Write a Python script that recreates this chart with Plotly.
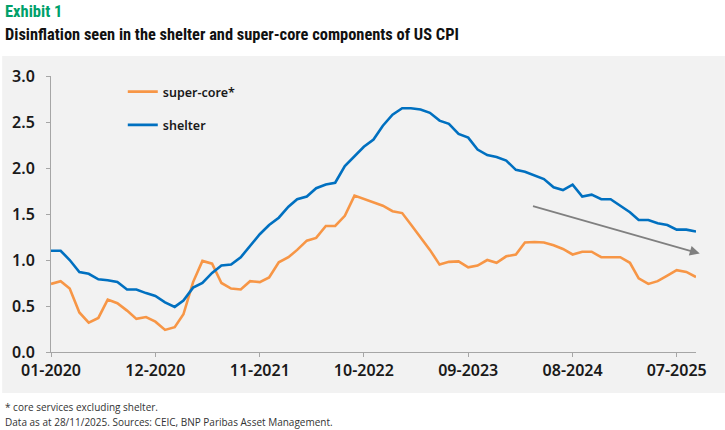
import pandas as pd
import plotly.graph_objects as go

# monthly, 01-2020 .. 09-2025
months = pd.date_range("2020-01-01", "2025-09-01", freq="MS")

super_core = [
    0.74, 0.77, 0.69, 0.43, 0.32, 0.37, 0.57, 0.53, 0.45, 0.36, 0.38, 0.33,
    0.24, 0.27, 0.41, 0.76, 0.99, 0.96, 0.75, 0.69, 0.68, 0.77, 0.76, 0.81,
    0.975, 1.03, 1.11, 1.21, 1.24, 1.37, 1.37, 1.48, 1.70, 1.665, 1.63, 1.59,
    1.53, 1.51, 1.385, 1.25, 1.11, 0.95, 0.98, 0.985, 0.92, 0.94, 1.00, 0.97,
    1.04, 1.06, 1.19, 1.195, 1.19, 1.16, 1.12, 1.06, 1.09, 1.09, 1.03, 1.03,
    1.03, 0.97, 0.80, 0.74, 0.77, 0.83, 0.89, 0.87, 0.815,
]
shelter = [
    1.10, 1.10, 1.00, 0.87, 0.85, 0.79, 0.78, 0.76, 0.68, 0.68, 0.64, 0.61,
    0.54, 0.49, 0.56, 0.70, 0.75, 0.86, 0.94, 0.95, 1.03, 1.15, 1.28, 1.38,
    1.46, 1.58, 1.66, 1.69, 1.78, 1.82, 1.84, 2.02, 2.13, 2.23, 2.31, 2.46,
    2.58, 2.65, 2.65, 2.635, 2.60, 2.515, 2.48, 2.37, 2.33, 2.20, 2.14, 2.12,
    2.08, 1.98, 1.96, 1.92, 1.88, 1.79, 1.76, 1.82, 1.69, 1.71, 1.66, 1.66,
    1.59, 1.52, 1.435, 1.435, 1.40, 1.38, 1.33, 1.33, 1.31,
]

# trend arrow (start -> end)
trend_start = ("2024-03-22", 1.59)
trend_end = ("2025-09-13", 1.07)

ORANGE = "#F79646"
BLUE = "#0070C0"
GREEN = "#00A06A"
PANEL = "#F2F2F2"
TITLE_FONT = "Liberation Sans Narrow, Roboto Condensed, Roboto, sans-serif"
TICK_FONT = "Noto Sans, Open Sans, sans-serif"

W, H = 725, 430
ML, MR, MT, MB = 49, 29, 76, 78


def px_x(px):
    return (px - ML) / (W - ML - MR)


def px_y(py):
    return (H - MB - py) / (H - MT - MB)


fig = go.Figure()
fig.add_trace(go.Scatter(x=months, y=super_core, name="super-core*", mode="lines",
                         legendgroup="sc", line=dict(color=ORANGE, width=2.6)))
fig.add_trace(go.Scatter(x=months, y=shelter, name="shelter", mode="lines",
                         legendgroup="sh", line=dict(color=BLUE, width=2.6)))

# grey chart panel
fig.add_shape(type="rect", xref="paper", yref="paper", layer="below",
              x0=px_x(0), x1=px_x(W), y0=px_y(393), y1=px_y(56),
              fillcolor=PANEL, line=dict(width=0))

fig.add_annotation(x=trend_end[0], y=trend_end[1], ax=trend_start[0], ay=trend_start[1],
                   xref="x", yref="y", axref="x", ayref="y", text="",
                   showarrow=True, arrowhead=2, arrowsize=1.1, arrowwidth=1.8,
                   arrowcolor="#808080")

fig.add_annotation(x=px_x(1), y=px_y(11), xref="paper", yref="paper",
                   xanchor="left", yanchor="middle", showarrow=False,
                   text="<b>Exhibit 1</b>",
                   font=dict(family=TITLE_FONT, size=16.5, color=GREEN))
fig.add_annotation(x=px_x(1), y=px_y(34), xref="paper", yref="paper",
                   xanchor="left", yanchor="middle", showarrow=False,
                   text="<b>Disinflation seen in the shelter and super-core components of US CPI</b>",
                   font=dict(family=TITLE_FONT, size=16.4, color="#111111"))
fig.add_annotation(x=px_x(1), y=px_y(407), xref="paper", yref="paper",
                   xanchor="left", yanchor="middle", showarrow=False,
                   text="* core services excluding shelter.",
                   font=dict(family="Open Sans", size=10, color="#333333"))
fig.add_annotation(x=px_x(1), y=px_y(422), xref="paper", yref="paper",
                   xanchor="left", yanchor="middle", showarrow=False,
                   text="Data as at 28/11/2025. Sources: CEIC, BNP Paribas Asset Management.",
                   font=dict(family="Open Sans", size=10, color="#333333"))

fig.update_xaxes(range=["2020-01-01", "2025-09-01"], tick0="2020-01-01", dtick="M11",
                 tickformat="%m-%Y", ticks="outside", ticklen=4, tickcolor="#A6A6A6",
                 showline=True, linecolor="#A6A6A6", linewidth=1, showgrid=False,
                 zeroline=False,
                 tickfont=dict(family=TICK_FONT, size=16, color="#1A1A1A", weight=600))
fig.update_yaxes(range=[0, 3], dtick=0.5, tickformat=".1f", ticks="outside", ticklen=4,
                 tickcolor="#A6A6A6", showline=True, linecolor="#A6A6A6", linewidth=1,
                 showgrid=False, zeroline=False, ticklabelstandoff=8,
                 tickfont=dict(family=TICK_FONT, size=16, color="#1A1A1A", weight=600))

fig.update_layout(
    width=W, height=H,
    margin=dict(l=ML, r=MR, t=MT, b=MB),
    paper_bgcolor="white", plot_bgcolor=PANEL,
    showlegend=True,
    legend=dict(x=px_x(121), y=px_y(77), xanchor="left", yanchor="top",
                bgcolor="rgba(0,0,0,0)", traceorder="grouped", tracegroupgap=14,
                itemwidth=30,
                font=dict(family=TICK_FONT, size=12.5, color="#1A1A1A", weight=600)),
)

# drop the browser's default body margin so the figure sits at the page origin
fig.write_html("out.html", config={"displayModeBar": False},
               post_script="document.body.style.margin='0px';")
